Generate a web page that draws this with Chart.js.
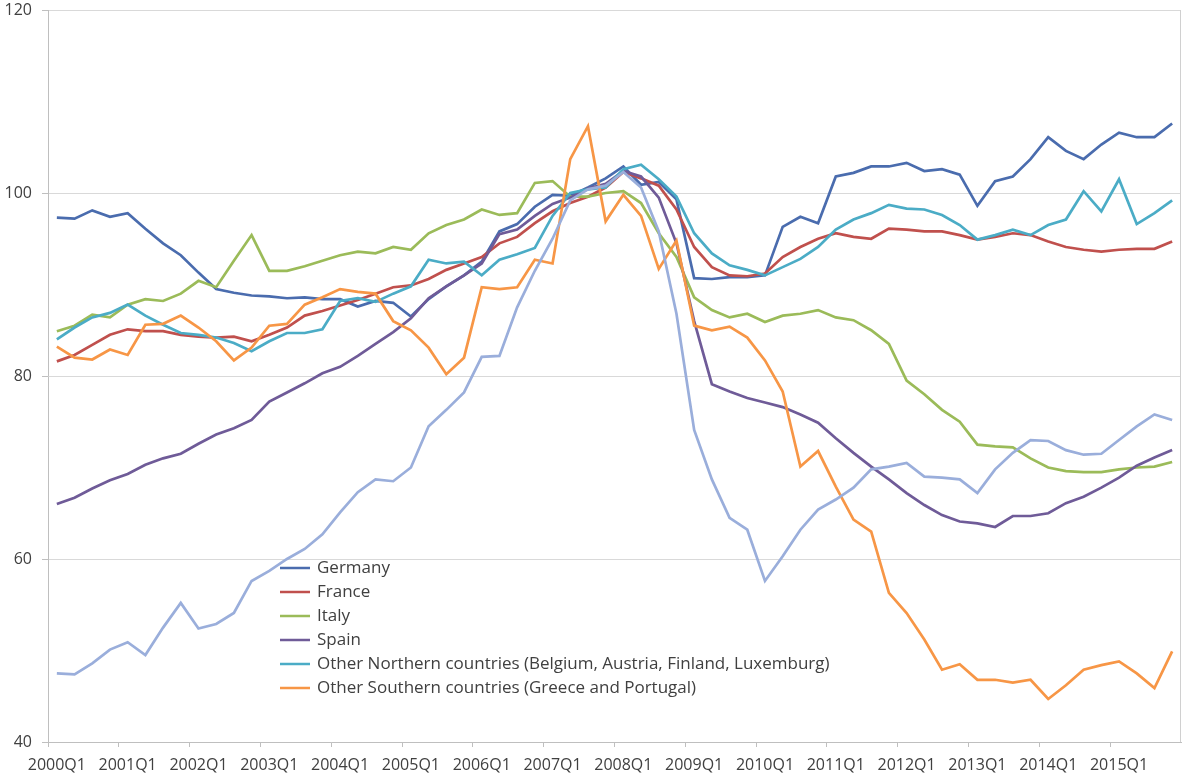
<!DOCTYPE html>
<html>
<head>
<meta charset="utf-8">
<script src="https://cdn.jsdelivr.net/npm/chart.js@4.4.1/dist/chart.umd.min.js"></script>
<style>
  body { margin: 0; background: #fff; }
  #wrap { width: 1183px; height: 776px; position: relative; }
</style>
</head>
<body>
<div id="wrap"><canvas id="myChart"></canvas></div>
<script>
'use strict';

// quarters 2000Q1 .. 2015Q4
let years = [2000, 2001, 2002, 2003, 2004, 2005, 2006, 2007, 2008, 2009, 2010, 2011, 2012, 2013, 2014, 2015];
let quarters = ['Q1', 'Q2', 'Q3', 'Q4'];
let labels = [];
years.forEach(y => quarters.forEach(q => labels.push(y + q)));

let germany = [
    97.3, 97.2, 98.1, 97.4, 97.8, 96.1, 94.5, 93.2, 91.3, 89.5, 89.1, 88.8, 88.7, 88.5, 88.6, 88.4,
    88.4, 87.6, 88.2, 88.0, 86.5, 88.4, 89.8, 91.0, 92.5, 95.8, 96.6, 98.5, 99.8, 99.7, 100.6, 101.6,
    102.9, 100.9, 101.2, 99.3, 90.7, 90.6, 90.8, 90.8, 91.0, 96.3, 97.4, 96.7, 101.8, 102.2, 102.9, 102.9,
    103.3, 102.4, 102.6, 102.0, 98.6, 101.3, 101.8, 103.7, 106.1, 104.6, 103.7, 105.3, 106.6, 106.1, 106.1, 107.6
];
let france = [
    81.6, 82.3, 83.4, 84.5, 85.1, 84.9, 84.9, 84.5, 84.3, 84.2, 84.3, 83.8, 84.5, 85.3, 86.6, 87.1,
    87.7, 88.3, 89.0, 89.7, 89.9, 90.6, 91.6, 92.3, 93.0, 94.5, 95.2, 96.7, 98.0, 98.9, 99.6, 100.6,
    102.3, 101.6, 100.8, 98.2, 94.1, 91.9, 91.0, 90.9, 91.2, 93.0, 94.1, 95.0, 95.6, 95.2, 95.0, 96.1,
    96.0, 95.8, 95.8, 95.4, 94.9, 95.2, 95.6, 95.4, 94.7, 94.1, 93.8, 93.6, 93.8, 93.9, 93.9, 94.7
];
let italy = [
    84.9, 85.5, 86.7, 86.4, 87.8, 88.4, 88.2, 89.0, 90.4, 89.7, 92.6, 95.4, 91.5, 91.5, 92.0, 92.6,
    93.2, 93.6, 93.4, 94.1, 93.8, 95.6, 96.5, 97.1, 98.2, 97.6, 97.8, 101.1, 101.3, 99.6, 99.6, 100.0,
    100.2, 98.9, 95.6, 93.0, 88.6, 87.2, 86.4, 86.8, 85.9, 86.6, 86.8, 87.2, 86.4, 86.1, 85.0, 83.5,
    79.5, 78.0, 76.3, 75.0, 72.5, 72.3, 72.2, 71.0, 70.0, 69.6, 69.5, 69.5, 69.8, 70.0, 70.1, 70.6
];
let spain = [
    66.0, 66.7, 67.7, 68.6, 69.3, 70.3, 71.0, 71.5, 72.6, 73.6, 74.3, 75.2, 77.2, 78.2, 79.2, 80.3,
    81.0, 82.2, 83.5, 84.8, 86.3, 88.5, 89.8, 91.0, 92.3, 95.5, 96.0, 97.5, 98.8, 99.5, 100.5, 101.0,
    102.4, 101.8, 99.5, 94.5, 86.0, 79.1, 78.3, 77.6, 77.1, 76.6, 75.8, 74.9, 73.2, 71.6, 70.1, 68.7,
    67.2, 65.9, 64.8, 64.1, 63.9, 63.5, 64.7, 64.7, 65.0, 66.1, 66.8, 67.8, 68.9, 70.2, 71.1, 71.9
];
let otherNorth = [
    84.0, 85.3, 86.4, 86.9, 87.8, 86.6, 85.6, 84.7, 84.5, 84.2, 83.6, 82.7, 83.8, 84.7, 84.7, 85.1,
    88.2, 88.5, 88.1, 89.0, 89.8, 92.7, 92.3, 92.5, 91.0, 92.7, 93.3, 94.0, 97.5, 100.0, 100.4, 100.6,
    102.6, 103.1, 101.5, 99.6, 95.6, 93.4, 92.1, 91.6, 91.0, 91.9, 92.8, 94.1, 96.0, 97.1, 97.8, 98.7,
    98.3, 98.2, 97.6, 96.5, 94.9, 95.4, 96.0, 95.4, 96.5, 97.1, 100.2, 98.0, 101.5, 96.6, 97.8, 99.2
];
let otherSouth = [
    83.2, 82.0, 81.8, 82.9, 82.3, 85.6, 85.7, 86.6, 85.3, 83.8, 81.7, 83.1, 85.5, 85.7, 87.8, 88.6,
    89.5, 89.2, 89.0, 86.0, 85.0, 83.1, 80.2, 82.0, 89.7, 89.5, 89.7, 92.7, 92.3, 103.7, 107.3, 96.9,
    99.8, 97.5, 91.7, 94.8, 85.5, 85.0, 85.4, 84.2, 81.7, 78.3, 70.1, 71.8, 67.9, 64.3, 63.0, 56.3,
    54.1, 51.2, 47.9, 48.5, 46.8, 46.8, 46.5, 46.8, 44.7, 46.2, 47.9, 48.4, 48.8, 47.5, 45.9, 49.9
];
// seventh line, not in the legend
let unlabelled = [
    47.5, 47.4, 48.6, 50.1, 50.9, 49.5, 52.5, 55.2, 52.4, 52.9, 54.1, 57.6, 58.7, 60.0, 61.1, 62.7,
    65.1, 67.3, 68.7, 68.5, 70.0, 74.5, 76.3, 78.2, 82.1, 82.2, 87.5, 91.5, 95.0, 99.2, 100.4, 100.8,
    102.3, 100.6, 95.8, 86.8, 74.1, 68.7, 64.5, 63.2, 57.6, 60.3, 63.2, 65.4, 66.5, 67.8, 69.8, 70.1,
    70.5, 69.0, 68.9, 68.7, 67.2, 69.8, 71.6, 73.0, 72.9, 71.9, 71.4, 71.5, 73.0, 74.5, 75.8, 75.2
];

let yTicks = [40, 60, 80, 100, 120];

let series = [
    { name: 'Germany', data: germany, color: '#4a6cae' },
    { name: 'France', data: france, color: '#c0504d' },
    { name: 'Italy', data: italy, color: '#9bbb59' },
    { name: 'Spain', data: spain, color: '#6f5b98' },
    { name: 'Other Northern countries (Belgium, Austria, Finland, Luxemburg)', data: otherNorth, color: '#4bacc6' },
    { name: 'Other Southern countries (Greece and Portugal)', data: otherSouth, color: '#f79646' },
    { name: '', data: unlabelled, color: '#9aaedb' }
];

const FONT = '"Open Sans", sans-serif';
const TEXT = '#404040';

// legend sits inside the plot, lower left
let insideLegend = {
    id: 'insideLegend',
    afterDatasetsDraw(chart) {
        let ctx = chart.ctx;
        let x = 280, y = 568, row = 24;
        ctx.save();
        ctx.font = '17px ' + FONT;
        ctx.textBaseline = 'middle';
        ctx.textAlign = 'left';
        chart.data.datasets.forEach(ds => {
            if (!ds.label) return;
            ctx.strokeStyle = ds.borderColor;
            ctx.lineWidth = 2.5;
            ctx.beginPath();
            ctx.moveTo(x, y);
            ctx.lineTo(x + 30, y);
            ctx.stroke();
            ctx.fillStyle = TEXT;
            ctx.fillText(ds.label, x + 37, y);
            y += row;
        });
        // right edge of plot
        let a = chart.chartArea;
        ctx.strokeStyle = '#d0d0d0';
        ctx.lineWidth = 1;
        ctx.beginPath();
        ctx.moveTo(a.right - 0.5, a.top);
        ctx.lineTo(a.right - 0.5, a.bottom);
        ctx.stroke();
        ctx.restore();
    }
};

let ctx = document.getElementById('myChart').getContext('2d');
let chart = new Chart(ctx, {
    type: 'line',
    data: {
        labels: labels,
        datasets: series.map((s, i) => ({
            label: s.name,
            data: s.data,
            borderColor: s.color,
            backgroundColor: s.color,
            borderWidth: 2.7,
            pointRadius: 0,
            tension: 0,
            order: series.length - i
        }))
    },
    options: {
        responsive: true,
        maintainAspectRatio: false,
        animation: false,
        layout: { padding: { top: 0, right: 2, left: 0, bottom: 0 } },
        plugins: {
            legend: { display: false },
            tooltip: { enabled: false }
        },
        scales: {
            x: {
                type: 'category',
                offset: true,
                afterFit(scale) { scale.height = 34; },
                grid: {
                    offset: true,
                    drawOnChartArea: false,
                    drawTicks: true,
                    tickLength: 5,
                    color: c => (c.index % 4 === 0 ? '#bfbfbf' : 'rgba(0,0,0,0)')
                },
                border: { color: '#bfbfbf', width: 1 },
                ticks: {
                    autoSkip: false,
                    maxRotation: 0,
                    minRotation: 0,
                    padding: 9,
                    color: TEXT,
                    font: { family: FONT, size: 16 },
                    callback: function (value, index) {
                        return index % 4 === 0 ? this.getLabelForValue(value) : '';
                    }
                }
            },
            y: {
                min: yTicks[0],
                max: yTicks[yTicks.length - 1],
                afterFit(scale) {
                    scale.width = 48;
                    scale.paddingTop = 10;
                    scale.paddingBottom = 0;
                },
                afterBuildTicks(scale) { scale.ticks = yTicks.map(v => ({ value: v })); },
                grid: {
                    color: '#d9d9d9',
                    tickLength: 6,
                    tickColor: '#bfbfbf'
                },
                border: { color: '#bfbfbf', width: 1 },
                ticks: {
                    padding: 10,
                    color: TEXT,
                    font: { family: FONT, size: 16 }
                }
            }
        }
    },
    plugins: [insideLegend]
});
</script>
</body>
</html>
